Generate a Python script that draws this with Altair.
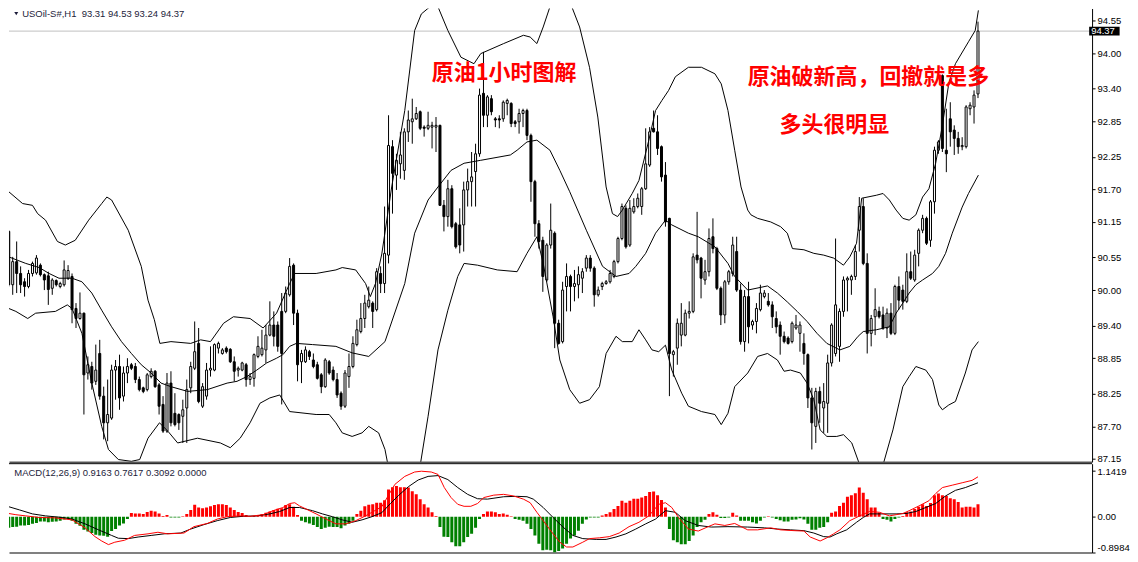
import pandas as pd
import altair as alt

# ---------------- data (USOil-S#, H1, bars 0..245) ----------------
opens = [
    90.99, 90.09, 90.48, 90.28, 90.14, 90.06, 90.28, 90.29, 90.42, 90.26,
    90.24, 90.03, 90.16, 90.06, 90.09, 90.20, 90.23, 89.69, 89.52, 89.61,
    88.60, 88.71, 88.46, 88.93, 88.21, 87.76, 87.84, 88.65, 88.71, 88.21,
    88.60, 88.74, 88.71, 88.49, 88.35, 88.32, 88.54, 88.63, 88.40, 88.07,
    87.62, 88.43, 87.92, 87.90, 87.87, 88.01, 88.35, 88.68, 89.10, 88.04,
    88.21, 88.65, 88.65, 89.02, 88.93, 89.02, 89.00, 88.79, 88.65, 88.65,
    88.74, 88.49, 88.51, 88.88, 88.91, 88.99, 89.24, 89.41, 89.41, 89.64,
    89.64, 89.92, 90.42, 89.61, 88.79, 88.79, 88.96, 88.82, 88.74, 88.57,
    88.37, 88.79, 88.65, 88.49, 88.26, 88.04, 88.54, 88.71, 89.08, 89.30,
    89.52, 89.72, 89.78, 89.67, 90.28, 90.11, 90.59, 92.42, 91.94, 92.13,
    92.02, 92.67, 92.84, 92.89, 93.01, 92.75, 92.73, 92.75, 92.75, 92.78,
    91.43, 91.24, 91.71, 91.12, 91.10, 91.10, 91.69, 91.83, 92.00, 92.30,
    93.32, 92.95, 93.23, 92.89, 92.89, 92.89, 93.15, 93.15, 92.84, 92.84,
    92.98, 93.03, 92.61, 91.83, 91.12, 90.84, 90.17, 90.76, 90.96, 89.44,
    89.13, 90.06, 90.23, 90.06, 90.09, 90.20, 90.37, 90.54, 90.37, 89.92,
    90.06, 90.11, 90.14, 90.23, 90.48, 90.87, 91.38, 90.76, 91.32, 91.41,
    91.41, 91.71, 92.11, 92.73, 92.67, 92.42, 91.94, 91.21, 88.91, 89.02,
    89.24, 89.24, 89.61, 89.64, 90.59, 90.54, 90.17, 90.31, 90.90, 90.70,
    90.03, 89.58, 90.14, 90.28, 90.65, 90.00, 89.13, 89.89, 89.41, 89.47,
    89.67, 89.89, 89.81, 89.75, 89.52, 89.41, 89.22, 89.19, 89.13, 89.36,
    89.27, 89.10, 88.91, 88.18, 87.70, 88.29, 88.01, 88.09, 88.77, 88.93,
    89.05, 89.64, 90.17, 90.17, 90.23, 91.01, 91.41, 90.45, 89.27, 89.55,
    89.64, 89.58, 89.36, 89.61, 89.27, 90.06, 90.00, 89.81, 90.31, 90.17,
    90.62, 91.01, 91.21, 90.84, 91.49, 92.36, 93.62, 92.36, 92.89, 92.70,
    92.56, 92.42, 92.42, 93.06, 93.09, 93.31,
]
highs = [
    91.01, 90.56, 90.82, 90.40, 90.20, 90.34, 90.48, 90.59, 90.45, 90.28,
    90.31, 90.20, 90.18, 90.14, 90.50, 90.42, 90.28, 89.78, 89.96, 89.62,
    88.88, 88.79, 89.08, 89.16, 88.37, 88.49, 88.74, 88.82, 88.91, 88.71,
    88.85, 88.77, 88.77, 88.54, 88.37, 88.60, 88.68, 88.65, 88.43, 88.21,
    88.60, 88.63, 88.26, 87.92, 88.15, 88.49, 88.79, 89.47, 89.36, 88.43,
    88.77, 89.05, 89.10, 89.13, 89.02, 89.05, 89.02, 88.88, 88.71, 88.79,
    88.77, 88.60, 88.93, 89.22, 89.33, 89.41, 89.81, 89.64, 89.47, 89.95,
    90.06, 90.54, 90.45, 89.67, 88.99, 89.05, 88.99, 88.93, 88.79, 88.60,
    88.85, 88.82, 88.71, 88.60, 88.29, 88.65, 88.93, 89.22, 89.50, 89.78,
    89.92, 90.06, 89.81, 90.37, 90.40, 91.41, 92.95, 92.53, 92.30, 92.67,
    92.73, 93.03, 93.23, 93.09, 93.03, 92.78, 93.01, 92.84, 92.92, 92.79,
    91.52, 91.86, 91.77, 91.15, 91.38, 91.83, 92.05, 92.33, 92.47, 93.40,
    94.02, 93.29, 93.29, 92.92, 92.95, 93.20, 93.23, 93.17, 92.87, 93.06,
    93.06, 93.06, 92.64, 91.86, 91.18, 90.90, 90.79, 91.46, 90.99, 89.50,
    90.14, 90.45, 90.26, 90.34, 90.40, 90.37, 90.59, 90.59, 90.40, 90.06,
    90.14, 90.17, 90.34, 90.51, 90.90, 91.46, 91.43, 91.52, 91.55, 91.63,
    91.74, 92.73, 92.75, 93.03, 92.95, 92.44, 92.16, 91.22, 88.99, 89.52,
    89.78, 89.67, 89.81, 90.62, 91.32, 90.56, 90.51, 91.04, 91.21, 90.73,
    90.06, 90.17, 90.34, 90.90, 90.90, 90.11, 90.00, 90.14, 89.50, 89.78,
    90.09, 90.00, 89.95, 89.81, 89.64, 89.47, 89.30, 89.22, 89.47, 89.58,
    89.47, 89.27, 88.93, 88.35, 88.35, 88.37, 88.43, 88.91, 89.44, 90.87,
    89.69, 90.23, 90.23, 90.26, 90.76, 91.57, 91.55, 90.62, 89.58, 90.03,
    89.72, 89.72, 89.69, 89.78, 90.09, 90.23, 90.09, 90.62, 90.65, 90.68,
    91.04, 91.27, 91.24, 91.52, 92.42, 92.53, 93.64, 93.06, 93.17, 92.78,
    92.67, 92.58, 93.12, 93.17, 93.37, 94.53,
]
lows = [
    90.06, 89.92, 89.95, 89.95, 89.89, 90.03, 90.23, 90.26, 90.23, 90.00,
    89.75, 89.92, 90.06, 90.03, 90.06, 90.17, 89.44, 89.36, 89.50, 87.90,
    88.49, 88.32, 88.40, 88.15, 87.48, 87.45, 87.81, 88.15, 87.98, 88.12,
    88.43, 88.65, 88.43, 88.29, 88.26, 88.29, 88.51, 88.35, 87.90, 87.59,
    87.59, 87.70, 87.70, 87.64, 87.42, 87.42, 88.26, 88.65, 88.09, 88.01,
    88.15, 88.54, 88.63, 88.93, 88.91, 88.93, 88.77, 88.46, 88.54, 88.63,
    88.37, 88.40, 88.37, 88.85, 88.88, 88.77, 89.22, 89.05, 88.96, 88.07,
    89.61, 89.89, 89.41, 88.46, 88.43, 88.77, 88.82, 88.68, 88.49, 88.26,
    88.35, 88.57, 88.46, 88.18, 87.98, 88.01, 88.35, 88.68, 89.05, 89.27,
    89.36, 89.69, 89.36, 89.64, 89.95, 89.95, 90.45, 91.29, 91.69, 91.88,
    91.86, 92.50, 92.47, 92.87, 92.70, 92.59, 92.70, 92.39, 92.33, 91.42,
    90.99, 91.07, 91.04, 90.70, 90.62, 90.65, 91.41, 91.41, 91.41, 92.25,
    92.75, 92.75, 92.95, 92.75, 92.73, 92.84, 92.95, 92.75, 92.75, 92.64,
    92.75, 92.53, 91.49, 90.90, 90.70, 89.97, 90.14, 90.70, 89.02, 89.08,
    89.10, 89.64, 89.64, 89.81, 89.86, 89.95, 90.31, 90.31, 89.72, 89.89,
    90.00, 90.09, 90.11, 90.20, 90.45, 90.84, 90.70, 90.73, 91.29, 91.38,
    91.27, 91.69, 92.08, 92.66, 92.28, 91.83, 91.07, 88.21, 88.54, 88.74,
    89.05, 89.22, 89.52, 89.61, 90.45, 89.86, 90.09, 90.23, 90.62, 90.00,
    89.41, 89.44, 90.09, 90.23, 89.97, 89.08, 88.96, 89.10, 89.33, 89.27,
    89.64, 89.86, 89.72, 89.36, 89.27, 88.91, 89.10, 89.08, 89.10, 89.33,
    88.96, 88.74, 88.01, 87.31, 87.42, 87.76, 87.59, 87.59, 88.71, 88.88,
    88.79, 89.55, 89.64, 89.92, 90.17, 90.65, 90.42, 88.93, 89.05, 89.24,
    89.52, 89.33, 89.19, 89.24, 89.24, 89.67, 89.67, 89.78, 90.17, 90.14,
    90.40, 90.96, 90.76, 90.73, 91.29, 92.30, 92.33, 91.99, 92.42, 92.28,
    92.30, 92.36, 92.39, 92.95, 92.81, 93.24,
]
closes = [
    90.09, 90.48, 90.28, 90.09, 90.06, 90.28, 90.45, 90.54, 90.26, 90.17,
    90.01, 90.17, 90.09, 90.11, 90.34, 90.33, 89.67, 89.52, 89.61, 88.57,
    88.74, 88.43, 88.65, 88.21, 87.76, 87.90, 88.65, 88.71, 88.18, 88.60,
    88.71, 88.68, 88.49, 88.32, 88.29, 88.57, 88.63, 88.37, 88.04, 87.62,
    88.43, 87.76, 87.73, 87.76, 87.98, 88.32, 88.71, 88.96, 88.12, 88.37,
    88.65, 88.68, 89.08, 89.10, 88.99, 88.96, 88.79, 88.63, 88.68, 88.77,
    88.49, 88.54, 88.91, 89.05, 89.02, 89.24, 89.41, 89.22, 89.05, 88.93,
    89.95, 90.40, 89.61, 88.74, 88.93, 88.99, 88.88, 88.71, 88.51, 88.37,
    88.82, 88.60, 88.49, 88.23, 88.04, 88.60, 88.71, 89.10, 89.33, 89.52,
    89.78, 89.83, 89.64, 90.31, 90.11, 90.62, 92.44, 91.97, 92.19, 92.28,
    92.67, 92.87, 92.89, 92.98, 92.73, 92.73, 92.78, 92.78, 92.78, 91.43,
    91.24, 91.71, 91.07, 90.73, 90.76, 91.69, 91.83, 91.91, 92.30, 93.29,
    92.95, 93.26, 93.01, 92.87, 92.87, 93.17, 93.20, 92.81, 92.81, 92.98,
    93.03, 92.61, 91.83, 91.12, 90.82, 90.23, 90.76, 91.01, 89.44, 89.10,
    90.00, 90.23, 90.06, 90.11, 90.26, 90.31, 90.54, 90.37, 89.92, 90.00,
    90.11, 90.14, 90.28, 90.48, 90.87, 91.41, 90.73, 91.38, 91.41, 91.55,
    91.71, 92.13, 92.67, 92.67, 92.39, 91.91, 91.15, 88.93, 88.96, 89.44,
    89.44, 89.61, 89.64, 90.56, 90.51, 90.20, 90.31, 90.87, 90.70, 90.03,
    89.58, 90.14, 90.31, 90.76, 90.00, 89.13, 89.89, 89.38, 89.47, 89.69,
    89.95, 89.95, 89.75, 89.55, 89.38, 89.22, 89.13, 89.10, 89.44, 89.41,
    89.41, 88.93, 88.18, 87.76, 88.29, 88.09, 88.12, 88.77, 89.41, 89.75,
    89.64, 90.17, 90.20, 90.23, 90.65, 91.41, 90.45, 89.27, 89.52, 89.67,
    89.55, 89.36, 89.61, 89.27, 90.06, 89.83, 89.81, 90.31, 90.20, 90.59,
    91.01, 91.21, 90.79, 91.49, 92.36, 92.50, 92.39, 92.30, 92.67, 92.56,
    92.42, 92.44, 93.09, 93.12, 93.29, 94.37,
]

# Bollinger bands, read at line vertices (bar index, price)
bb_upper_idx = [0, 3.5, 6, 7.3, 9.3, 12.3, 14.3, 16.8, 20.2, 23.5, 24.8, 26, 30.2, 33.5, 35.2, 36.8,
                38.2, 41, 46, 48.5, 51, 54.3, 56.8, 61, 64.3, 67.7, 71, 72.3, 77.7, 82.7, 84.3, 87.7,
                90.2, 91.4, 92.7, 94.3, 96.8, 100.1, 102.6, 104.3, 106.8, 108.5, 111, 114.3, 117.6,
                119.3, 125.1, 130.1, 131.8, 133.5, 135.1, 137.6, 139.7, 141.4, 144.3, 146.8, 148.9,
                151, 152.6, 153.9, 155.1, 157.6, 159.3, 161.8, 163.5, 165.1, 166.8, 168.5, 171.8,
                175.1, 178.5, 180.1, 181.8, 183.5, 185.1, 186.8, 187.6, 189.3, 192.6, 195.1, 196.8,
                198.1, 201, 203.5, 206, 208.5, 211, 212.6, 214.3, 215.6, 219.3, 221, 222.6, 224.3,
                226, 227.6, 229.3, 231, 232.6, 234.3, 236, 237.6, 239.3, 242.6, 244.3, 245.1]
bb_upper = [91.66, 91.46, 91.43, 91.29, 91.18, 90.82, 90.76, 90.84, 91.18, 91.46, 91.57, 91.52, 91.01,
            90.40, 89.83, 89.50, 89.10, 89.13, 89.10, 89.16, 89.13, 89.44, 89.55, 89.52, 89.36, 89.61,
            90.11, 90.28, 90.28, 90.34, 90.38, 90.34, 90.11, 89.89, 90.11, 90.61, 91.74, 93.03, 94.38,
            94.66, 94.80, 94.78, 94.38, 93.93, 93.82, 93.99, 94.16, 94.30, 94.27, 94.16, 94.44, 94.94,
            95.05, 94.94, 94.44, 93.76, 92.92, 91.74, 91.29, 91.24, 91.35, 91.63, 91.85, 92.53, 93.03,
            93.20, 93.37, 93.60, 93.76, 93.76, 93.65, 93.48, 93.03, 92.36, 91.74, 91.35, 91.27, 91.21,
            91.15, 91.07, 90.96, 90.70, 90.68, 90.62, 90.59, 90.54, 90.42, 90.56, 90.79, 91.55, 91.60,
            91.63, 91.52, 91.35, 91.21, 91.18, 91.27, 91.57, 91.71, 92.14, 92.78, 93.48, 93.82, 94.19,
            94.38, 94.72]
bb_mid_idx = [0, 4.3, 7.7, 10.2, 12.7, 16, 18.5, 21, 23.5, 26, 28.5, 31, 33.5, 36, 38.5, 41, 45.2,
              50.2, 55.2, 57.7, 60.2, 62.7, 65.2, 67.7, 69.3, 71, 72.7, 76.8, 82.7, 86.8, 91, 95.1,
              100.1, 102.6, 106, 108.5, 111.8, 115.1, 119.3, 126.8, 128.5, 131, 133.5, 136.8, 139.3,
              141.8, 146, 150.1, 153.5, 156.8, 158.5, 161, 163.5, 166, 167.6, 171.8, 174.3, 178.5,
              181.8, 183.5, 186.8, 191.8, 194.3, 196.8, 199.3, 201.8, 204.3, 206.8, 210.1, 212.6,
              214.7, 216, 219.3, 222.6, 224.3, 226, 227.6, 229.3, 231, 233.5, 235.1, 236.8, 238.5,
              241, 242.6, 245.1]
bb_mid = [90.56, 90.45, 90.38, 90.28, 90.20, 90.20, 90.14, 89.95, 89.66, 89.38, 89.13, 88.93, 88.74,
          88.60, 88.43, 88.37, 88.29, 88.32, 88.43, 88.46, 88.54, 88.65, 88.77, 88.85, 88.91, 89.05,
          89.10, 89.08, 89.05, 88.94, 88.88, 89.13, 90.11, 90.96, 91.52, 91.74, 92.02, 92.14, 92.19,
          92.28, 92.36, 92.50, 92.53, 92.36, 92.02, 91.66, 91.01, 90.40, 90.23, 90.28, 90.40, 90.62,
          90.96, 91.18, 91.10, 90.96, 90.90, 90.73, 90.45, 90.23, 90.00, 90.07, 89.95, 89.80, 89.64,
          89.47, 89.27, 89.10, 88.99, 89.05, 89.22, 89.30, 89.33, 89.38, 89.61, 89.78, 89.95, 90.09,
          90.17, 90.28, 90.40, 90.62, 90.96, 91.40, 91.63, 91.94]
bb_low_idx = [0, 1.8, 4.8, 6.8, 11.8, 14.8, 16, 18.5, 21, 23.5, 25.2, 27.7, 31, 33.1, 35.2, 38.1,
              40.2, 42.7, 47.7, 53.5, 56, 58.5, 61, 63.5, 66, 68.5, 71, 77.7, 81, 82.7, 84.3, 86.8,
              89.3, 91, 93.5, 95.1, 96, 100.1, 103.9, 106, 108.5, 111, 113.5, 115.1, 118.5, 123.5,
              128.5, 131, 133.5, 135.1, 137.6, 139.3, 141.8, 144.3, 146.8, 149.3, 151, 153.5, 155.1,
              157.6, 159.3, 161, 162.6, 164.3, 166, 167.6, 170.1, 171.8, 175.1, 178.5, 180.1, 181.8,
              183.5, 186.8, 189.3, 191.8, 194.3, 196, 197.6, 200.1, 201.8, 203.5, 205.1, 206.8,
              209.3, 211, 213.1, 215.1, 217.6, 221, 223.5, 226, 227.6, 229.3, 231.8, 233.5, 235.1,
              236, 237.6, 239.3, 241.8, 243.5, 245.1]
bb_low = [89.69, 89.64, 89.52, 89.61, 89.64, 89.75, 89.69, 89.27, 88.43, 87.70, 87.31, 87.14, 87.11,
          87.14, 87.50, 87.76, 87.62, 87.42, 87.50, 87.42, 87.34, 87.50, 87.76, 88.09, 88.18, 88.23,
          87.95, 87.90, 87.90, 87.76, 87.59, 87.53, 87.59, 87.70, 87.59, 87.31, 87.00, 86.86, 87.00,
          87.87, 88.99, 89.66, 90.23, 90.45, 90.42, 90.34, 90.31, 90.62, 90.90, 90.45, 89.55, 88.82,
          88.32, 88.09, 88.15, 88.37, 88.93, 89.22, 89.13, 89.13, 89.33, 89.16, 88.99, 88.96, 89.07,
          88.65, 88.26, 88.04, 87.95, 87.90, 87.73, 87.92, 88.37, 88.60, 88.88, 88.93, 88.82, 88.63,
          88.65, 88.60, 88.43, 88.15, 87.64, 87.53, 87.53, 87.56, 87.42, 87.05, 86.91, 87.05, 87.64,
          88.37, 88.54, 88.71, 88.65, 88.49, 88.06, 87.98, 88.06, 88.12, 88.60, 88.99, 89.13]

# MACD(12,26,9): histogram per bar, and the two lines at vertices
macd_hist = [
    -0.28, -0.26, -0.25, -0.22, -0.22, -0.21, -0.18, -0.16, -0.12, -0.12,
    -0.14, -0.13, -0.12, -0.10, -0.07, -0.06, -0.10, -0.18, -0.23, -0.33,
    -0.37, -0.41, -0.45, -0.47, -0.48, -0.50, -0.36, -0.31, -0.22, -0.17,
    -0.06, 0.09, 0.08, 0.08, 0.07, 0.12, 0.15, 0.13, 0.08, 0.02,
    0.04, -0.02, -0.02, -0.02, 0.01, 0.07, 0.17, 0.30, 0.23, 0.21,
    0.23, 0.26, 0.29, 0.31, 0.31, 0.29, 0.23, 0.17, 0.12, 0.09,
    0.04, 0.01, 0.02, 0.04, 0.06, 0.10, 0.13, 0.17, 0.20, 0.21,
    0.29, 0.31, 0.25, 0.04, -0.10, -0.14, -0.17, -0.21, -0.26, -0.31,
    -0.28, -0.25, -0.26, -0.26, -0.29, -0.22, -0.18, -0.10, 0.07, 0.15,
    0.26, 0.30, 0.31, 0.35, 0.35, 0.41, 0.68, 0.74, 0.77, 0.74,
    0.74, 0.73, 0.64, 0.56, 0.44, 0.31, 0.23, 0.11, 0.02, -0.26,
    -0.50, -0.51, -0.64, -0.74, -0.74, -0.64, -0.51, -0.43, -0.28, -0.06,
    0.07, 0.13, 0.13, 0.11, 0.07, 0.08, 0.05, 0.01, -0.06, -0.08,
    -0.10, -0.18, -0.31, -0.47, -0.68, -0.84, -0.83, -0.84, -0.90, -0.86,
    -0.80, -0.68, -0.55, -0.47, -0.35, -0.18, -0.07, -0.02, -0.02, -0.02,
    0.03, 0.07, 0.11, 0.19, 0.27, 0.40, 0.35, 0.40, 0.45, 0.45,
    0.48, 0.52, 0.62, 0.63, 0.54, 0.42, 0.23, -0.31, -0.59, -0.64,
    -0.69, -0.69, -0.61, -0.47, -0.26, -0.14, -0.08, 0.07, 0.11, 0.05,
    -0.03, -0.03, -0.02, 0.10, 0.03, -0.10, -0.10, -0.10, -0.14, -0.17,
    -0.10, -0.02, 0.01, -0.02, -0.06, -0.09, -0.12, -0.12, -0.08, -0.07,
    -0.04, -0.07, -0.18, -0.33, -0.33, -0.28, -0.26, -0.14, 0.10, 0.13,
    0.27, 0.35, 0.50, 0.54, 0.59, 0.73, 0.60, 0.44, 0.23, 0.23,
    0.10, -0.06, -0.08, -0.12, -0.06, -0.02, 0.02, 0.11, 0.13, 0.19,
    0.25, 0.31, 0.27, 0.34, 0.54, 0.58, 0.54, 0.52, 0.46, 0.44,
    0.37, 0.23, 0.25, 0.25, 0.23, 0.31,
]
macd_main_idx = [0, 1.8, 4.3, 7.7, 11.8, 16, 19.3, 21.8, 23.5, 25.2, 26.8, 29.3, 31.8, 35.2, 37.7,
                 40.2, 44.3, 46.8, 50.2, 52.7, 55.2, 58.5, 61, 64.3, 66.8, 69.3, 71, 72.3, 73.5,
                 75.2, 77.7, 80.2, 82.7, 85.2, 87.7, 90.2, 91.8, 94.3, 97.6, 100.1, 102.6, 104.3,
                 106.8, 108.5, 110.1, 111.8, 113.5, 115.1, 116.8, 118.5, 120.1, 122.6, 125.1, 127.6,
                 130.1, 131.8, 133.5, 135.1, 137.6, 139.3, 141, 142.6, 145.1, 146.8, 149.3, 151.8,
                 154.3, 156.8, 159.3, 161.8, 164.3, 166, 167.6, 169.3, 171.8, 174.3, 176.8, 178.5,
                 181, 183.5, 186.8, 189.3, 192.6, 195.1, 198.5, 201, 202.6, 205.1, 206.8, 208.5,
                 210.1, 212.6, 215.1, 217.6, 220.1, 222.6, 224.3, 226, 227.6, 230.1, 232.6, 234.3,
                 236, 238.5, 241, 243.5, 245]
macd_main = [0.08, 0.05, 0.02, -0.02, -0.03, -0.08, -0.28, -0.50, -0.61, -0.70, -0.64, -0.59, -0.47,
             -0.43, -0.39, -0.43, -0.41, -0.25, -0.17, -0.06, 0.00, 0.02, 0.01, 0.05, 0.15, 0.23,
             0.33, 0.35, 0.27, 0.19, 0.07, -0.06, -0.18, -0.18, -0.10, 0.02, 0.11, 0.25, 0.81, 1.01,
             1.12, 1.14, 1.12, 1.06, 0.73, 0.48, 0.31, 0.26, 0.26, 0.33, 0.48, 0.54, 0.56, 0.52,
             0.44, 0.35, 0.11, -0.10, -0.43, -0.64, -0.76, -0.76, -0.64, -0.55, -0.53, -0.50, -0.41,
             -0.25, -0.14, 0.02, 0.31, 0.35, 0.23, -0.02, -0.31, -0.36, -0.25, -0.18, -0.22, -0.17,
             -0.33, -0.33, -0.28, -0.33, -0.35, -0.36, -0.51, -0.61, -0.53, -0.43, -0.33, -0.10,
             0.02, 0.13, 0.11, 0.02, 0.05, 0.08, 0.15, 0.27, 0.40, 0.58, 0.73, 0.79, 0.85, 0.91, 1.00]
macd_signal_idx = [0, 2.7, 6, 9.3, 13.5, 16, 19.3, 22.7, 26, 27.7, 30.2, 32.7, 36, 39.3, 43.5, 46,
                   49.3, 52.7, 56, 59.3, 62.7, 66, 68.5, 71, 73.5, 76.8, 79.3, 81.8, 84.3, 86.8,
                   89.3, 91.8, 94.3, 96.5, 98.5, 101, 103.5, 106, 108.5, 111, 113.5, 116, 118.5, 121,
                   125.1, 128.5, 131, 132.6, 135.1, 137.6, 140.1, 142.6, 145.1, 148.5, 151, 153.5,
                   156, 158.5, 161, 163.5, 166, 168.5, 171, 174.3, 177.6, 181.8, 186.8, 191, 194.3,
                   197.6, 201, 203.5, 206, 207.6, 209.3, 211.8, 214.3, 216, 217.6, 221, 224.3, 226.8,
                   229.3, 231.8, 234.3, 236.8, 239.3, 241.8, 245]
macd_signal = [0.25, 0.17, 0.07, 0.02, -0.02, -0.06, -0.18, -0.33, -0.47, -0.54, -0.55, -0.51, -0.47,
               -0.43, -0.41, -0.31, -0.20, -0.10, -0.02, 0.01, 0.02, 0.07, 0.13, 0.23, 0.23, 0.15,
               0.07, 0.00, -0.08, -0.14, -0.08, 0.00, 0.10, 0.33, 0.53, 0.75, 0.92, 1.01, 1.03, 0.93,
               0.73, 0.56, 0.45, 0.44, 0.50, 0.51, 0.50, 0.44, 0.23, -0.02, -0.26, -0.47, -0.55,
               -0.57, -0.57, -0.51, -0.43, -0.31, -0.18, -0.06, 0.15, 0.11, -0.10, -0.22, -0.26,
               -0.25, -0.26, -0.28, -0.31, -0.33, -0.35, -0.41, -0.50, -0.51, -0.43, -0.33, -0.14,
               -0.02, 0.07, 0.07, 0.07, 0.08, 0.13, 0.23, 0.33, 0.52, 0.66, 0.73, 0.85]

# axis tick labels
price_ticks = [87.15, 87.70, 88.25, 88.85, 89.40, 90.00, 90.55, 91.15, 91.70, 92.25, 92.85, 93.40,
               94.00, 94.55]
macd_ticks = [-0.8984, 0.0, 1.1419]

# texts
note_text = ["原油1小时图解", "原油破新高，回撤就是多", "多头很明显"]
note_idx = [125.2, 217.3, 208.7]
note_price = [93.66, 93.59, 92.78]
header_text = "USOil-S#,H1\u00a0 93.31 94.53 93.24 94.37"
macd_text = "MACD(12,26,9) 0.9163 0.7617 0.3092 0.0000"
last_price = 94.37

# ---------------- scales / layout ----------------
# whole chart kept inside the 1122x546 area left by the page margin
W, H_MAIN, H_MACD = 1085, 454, 89
X_DOM = [1.325, 272.575]          # 4 px per bar
P_DOM = [87.104, 94.752]
M_DOM = [-0.8984, 1.329]
LABEL_FONT = "Liberation Sans"
TXT = "#1c1c3a"

xs = alt.Scale(domain=X_DOM, nice=False, zero=False)
ps = alt.Scale(domain=P_DOM, nice=False, zero=False)
ms = alt.Scale(domain=M_DOM, nice=False, zero=False)

x_axis_main = alt.Axis(labels=False, ticks=False, grid=False, title=None, domainColor="black")
y_axis_main = alt.Axis(orient="right", values=price_ticks, format=".2f", grid=False, title=None,
                       tickSize=3, labelPadding=2, domainColor="black", tickColor="black",
                       labelColor="black", labelFont=LABEL_FONT, labelFontSize=9.5)
x_axis_macd = alt.Axis(labels=False, ticks=False, grid=False, title=None, domainColor="black")
y_axis_macd = alt.Axis(orient="right", values=macd_ticks, grid=False, title=None, tickSize=3,
                       labelPadding=2, labelFlush=True, domainColor="black", tickColor="black",
                       labelColor="black", labelFont=LABEL_FONT, labelFontSize=9.5,
                       labelExpr="datum.value < 0 ? '-0.8984' : (datum.value > 0 ? '1.1419' : '0.00')")


def X(f):
    return alt.X(f, type="quantitative", scale=xs, axis=x_axis_main)


def P(f):
    return alt.Y(f, type="quantitative", scale=ps, axis=y_axis_main)


def XM(f):
    return alt.X(f, type="quantitative", scale=xs, axis=x_axis_macd)


def M(f):
    return alt.Y(f, type="quantitative", scale=ms, axis=y_axis_macd)


candles = pd.DataFrame({"idx": range(len(opens)), "open": opens, "high": highs,
                        "low": lows, "close": closes, "hist": macd_hist})

bands = pd.concat([
    pd.DataFrame({"idx": bb_upper_idx, "v": bb_upper, "band": "upper"}),
    pd.DataFrame({"idx": bb_mid_idx, "v": bb_mid, "band": "mid"}),
    pd.DataFrame({"idx": bb_low_idx, "v": bb_low, "band": "lower"}),
])
notes = pd.DataFrame({"idx": note_idx, "p": note_price, "t": note_text})
lines = pd.concat([
    pd.DataFrame({"idx": macd_signal_idx, "v": macd_signal, "s": "signal"}),
    pd.DataFrame({"idx": macd_main_idx, "v": macd_main, "s": "main"}),
])

# ---------------- main panel ----------------
bid = alt.Chart(pd.DataFrame({"p": [last_price]})).mark_rule(color="#c0c0c0").encode(y=P("p"))

wicks = alt.Chart(candles).mark_rule(color="black", strokeWidth=1, clip=True).encode(
    x=X("idx"), y=P("high"), y2="low")

bodies = alt.Chart(candles).mark_bar(size=2, stroke="black", strokeWidth=1, clip=True).encode(
    x=X("idx"), y=P("open"), y2="close",
    fill=alt.condition("datum.close >= datum.open", alt.value("white"), alt.value("black")))

bb = alt.Chart(bands).mark_line(color="black", strokeWidth=1, clip=True).encode(
    x=X("idx"), y=P("v"), detail="band:N", order="idx:Q")

note_marks = alt.Chart(notes).mark_text(
    font="Noto Sans CJK SC", fontSize=22, fontWeight="bold", color="#ff0000",
    align="center", baseline="middle").encode(x=X("idx"), y=P("p"), text="t:N")

head = alt.Chart(pd.DataFrame({"idx": [3.4], "p": [94.745], "t": [header_text]})).mark_text(
    font=LABEL_FONT, fontSize=9.5, color=TXT, align="left", baseline="top").encode(
    x=X("idx"), y=P("p"), text="t:N")
tri = alt.Chart(pd.DataFrame({"idx": [1.9], "p": [94.665]})).mark_point(
    shape="triangle-down", filled=True, size=16, color=TXT, opacity=1).encode(x=X("idx"), y=P("p"))

# black current-price tag just right of the price axis
box_half = 0.074
price_box = alt.Chart(pd.DataFrame({"x1": [273.1], "x2": [280.8],
                                    "y1": [last_price + box_half], "y2": [last_price - box_half]})
                      ).mark_rect(color="black").encode(x=X("x1"), x2="x2", y=P("y1"), y2="y2")
price_txt = alt.Chart(pd.DataFrame({"idx": [273.6], "p": [last_price], "t": ["94.37"]})).mark_text(
    font=LABEL_FONT, fontSize=9.5, color="white", align="left", baseline="middle").encode(
    x=X("idx"), y=P("p"), text="t:N")

main = alt.layer(bid, wicks, bodies, bb, note_marks, head, tri, price_box, price_txt).properties(
    width=W, height=H_MAIN)

# ---------------- MACD panel ----------------
hist = alt.Chart(candles).mark_bar(size=3, clip=True).encode(
    x=XM("idx"), y=M("hist"), y2=alt.datum(0),
    color=alt.condition("datum.hist >= 0", alt.value("#ff0000"), alt.value("#008000")))

mlines = alt.Chart(lines).mark_line(strokeWidth=1, clip=True).encode(
    x=XM("idx"), y=M("v"), detail="s:N", order="idx:Q",
    color=alt.Color("s:N", scale=alt.Scale(domain=["signal", "main"], range=["black", "#ff0000"]),
                    legend=None))

top_rule = alt.Chart(pd.DataFrame({"v": [M_DOM[1]]})).mark_rule(color="black").encode(y=M("v"))

mhead = alt.Chart(pd.DataFrame({"idx": [1.4], "v": [1.10], "t": [macd_text]})).mark_text(
    font=LABEL_FONT, fontSize=9.5, color=TXT, align="left", baseline="middle").encode(
    x=XM("idx"), y=M("v"), text="t:N")

macd = alt.layer(hist, mlines, top_rule, mhead).properties(width=W, height=H_MACD)

chart = (
    alt.vconcat(main, macd, spacing=2, bounds="flush")
    .properties(padding=0, background="white")
    .configure_view(stroke=None)
)

chart.save("out.html", embed_options={"renderer": "svg", "actions": False})
